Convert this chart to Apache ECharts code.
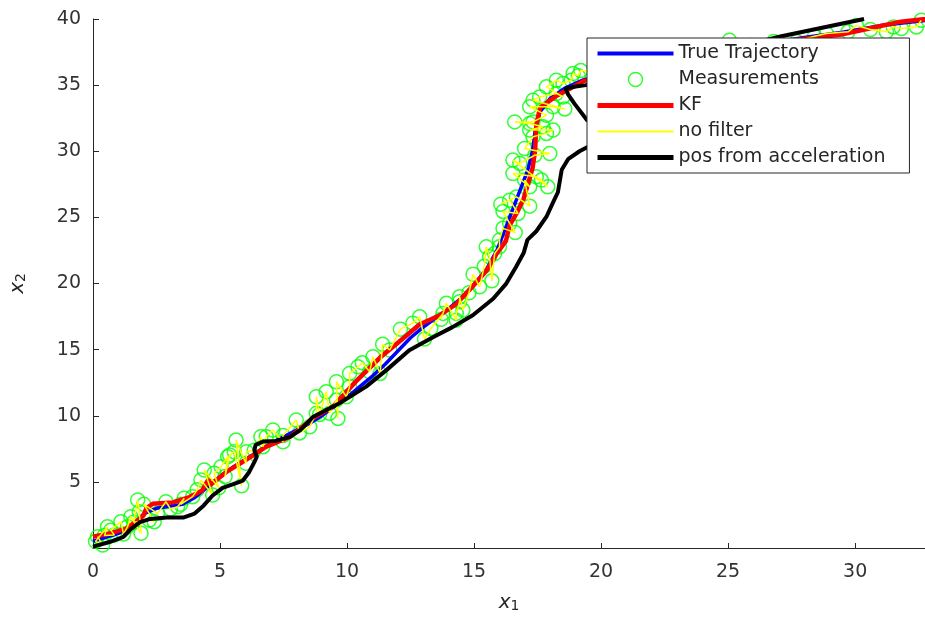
<!DOCTYPE html>
<html>
<head>
<meta charset="utf-8">
<script src="https://cdn.jsdelivr.net/npm/echarts@6/dist/echarts.min.js"></script>
<style>
html, body { margin: 0; background: #fff; }
#main { width: 925px; height: 619px; }
</style>
</head>
<body>
<div id="main"></div>
<script>
// 数据（从图上读出来的 [x1, x2]）
let trueTrajectory = [
    [0, 0.5], [0.5, 0.8], [1, 1.1], [1.5, 1.6], [2, 2.6], [2.5, 3.0], [3, 3.15], [3.5, 3.3],
    [4, 3.8], [4.5, 4.6], [5, 5.4], [5.5, 6.1], [6, 6.7], [6.5, 7.3], [7, 7.9], [7.5, 8.4],
    [8, 8.9], [8.5, 9.4], [9, 10.0], [9.5, 10.7], [10, 11.4], [10.5, 12.2], [11, 13.0],
    [11.5, 13.9], [12, 14.9], [12.5, 15.9], [13, 16.7], [13.5, 17.4], [14, 18.1], [14.5, 18.9],
    [15, 19.9], [15.5, 21.1], [15.9, 22.5], [16.2, 24.0], [16.5, 25.5], [16.8, 27.0],
    [17.1, 28.5], [17.3, 30.0], [17.4, 31.5], [17.6, 33.0], [18.0, 34.0], [18.6, 34.8],
    [19.3, 35.4], [20.5, 36.0], [22, 36.6], [24, 37.4], [26, 38.0], [28, 38.6], [29.5, 39.0],
    [31, 39.5], [32.8, 39.9]
];
let measurements = [
    [0.18, 0.86], [0.38, 0.23], [0.1, 0.5], [0.57, 1.61], [0.45, 0.95], [0.84, 0.98], [0.7, 1.35],
    [1.1, 1.99], [1.2, 1.05], [1.36, 1.61], [1.49, 2.37], [1.89, 1.11], [1.82, 2.74], [1.76, 3.63],
    [1.6, 1.95], [2.22, 2.12], [2.41, 1.99], [2.0, 3.3], [2.54, 2.62], [2.87, 3.5], [3.05, 2.95],
    [3.33, 3.12], [3.59, 3.76], [3.45, 3.3], [3.92, 3.88], [4.1, 4.4], [4.25, 5.14], [4.71, 4.0],
    [4.38, 5.9], [4.95, 4.55], [4.77, 5.65], [5.04, 6.15], [5.3, 6.9], [5.2, 5.4], [5.38, 7.03],
    [5.56, 7.28], [5.85, 4.7], [5.63, 8.16], [6.02, 6.4], [6.04, 7.28], [6.35, 7.4], [6.61, 8.41],
    [6.69, 7.66], [6.82, 8.41], [7.08, 8.92], [7.48, 8.03], [7.48, 8.5], [8.0, 9.68], [8.13, 8.7],
    [8.53, 9.17], [8.79, 10.18], [8.79, 11.44], [8.92, 10.1], [9.18, 11.81], [9.31, 10.18],
    [9.58, 11.19], [9.64, 9.8], [9.58, 12.57], [9.97, 11.44], [10.1, 12.19], [10.1, 13.2],
    [10.43, 13.7], [10.6, 14.0], [10.89, 13.33], [11.02, 14.46], [11.3, 13.2], [11.4, 15.4],
    [11.68, 14.97], [12.1, 16.55], [12.59, 17.0], [12.86, 17.48], [13.05, 15.8], [13.3, 16.6],
    [13.78, 17.74], [13.7, 17.3], [13.91, 18.5], [14.3, 17.23], [14.3, 17.74], [14.43, 18.62],
    [14.43, 19.0], [14.56, 17.99], [14.8, 19.3], [14.96, 20.7], [15.22, 19.75], [15.4, 21.3],
    [15.48, 22.77], [15.61, 22.02], [15.7, 20.2], [15.81, 22.27], [16.0, 22.77], [16.0, 23.28],
    [16.14, 24.17], [16.62, 23.85], [16.4, 24.54], [16.14, 25.45], [16.73, 25.3], [16.4, 26.3],
    [16.05, 26.0], [16.67, 26.55], [17.19, 25.85], [16.99, 27.82], [17.19, 27.31], [16.53, 28.32],
    [17.45, 28.07], [17.65, 27.82], [17.9, 27.31], [16.53, 29.33], [16.8, 29.08], [17.39, 29.7],
    [17.98, 29.83], [16.99, 30.21], [17.32, 31.09], [17.85, 31.35], [18.11, 31.6], [17.19, 31.6],
    [17.71, 31.85], [17.19, 32.1], [16.6, 32.22], [17.32, 32.22], [17.85, 32.73], [17.19, 33.36],
    [18.11, 33.36], [18.57, 33.2], [17.32, 33.86], [17.58, 34.11], [18.24, 34.37], [18.5, 34.11],
    [17.85, 34.87], [18.24, 35.37], [18.5, 35.12], [18.83, 35.37], [18.9, 35.88], [19.1, 35.7],
    [19.2, 36.1], [19.8, 36.0], [20.6, 36.3], [21.5, 36.7], [22.4, 37.0], [23.3, 37.4],
    [24.2, 37.7], [25.05, 38.4], [25.9, 38.0], [26.8, 38.3], [27.7, 38.3], [28.4, 38.7],
    [28.87, 38.9], [29.72, 39.03], [30.05, 39.5], [30.6, 39.2], [31.23, 39.03], [31.5, 39.4],
    [31.82, 39.28], [32.41, 39.4], [32.6, 39.9]
];
let kfEstimate = [
    [0, 0.85], [0.65, 1.1], [1.3, 1.45], [1.85, 2.2], [2.0, 2.5], [2.1, 3.0], [2.35, 3.35],
    [3.15, 3.45], [3.8, 3.85], [4.3, 4.35], [4.55, 5.2], [4.6, 4.75], [5.25, 5.75], [5.8, 6.4],
    [6.3, 7.0], [6.8, 7.65], [7.75, 8.4], [8.65, 9.8], [9.45, 10.7], [10.35, 12.6], [11.3, 14.4],
    [12.05, 15.6], [12.85, 16.9], [13.65, 17.6], [14.3, 18.45], [14.95, 19.8], [15.5, 21.0],
    [15.9, 22.3], [16.25, 23.2], [16.4, 24.4], [16.7, 25.4], [16.95, 26.4], [17.3, 28.7],
    [17.4, 30.0], [17.45, 32.0], [17.6, 33.3], [18.25, 34.2], [18.75, 34.7], [19.3, 35.3],
    [20.5, 35.9], [22, 36.5], [24, 37.3], [26, 38.0], [28, 38.5], [29.4, 38.8], [30.6, 39.3],
    [31.8, 39.8], [32.8, 40.0]
];
let posFromAcc = [
    [0, 0.1], [0.65, 0.45], [1.2, 0.85], [1.5, 1.45], [1.85, 1.95], [2.25, 2.2], [2.9, 2.3],
    [3.55, 2.3], [4.0, 2.6], [4.35, 3.2], [4.7, 3.95], [5.1, 4.55], [5.55, 4.85], [5.9, 5.1],
    [6.15, 5.75], [6.35, 6.5], [6.45, 6.9], [6.35, 7.4], [6.4, 7.8], [6.7, 8.05], [7.2, 8.1],
    [7.75, 8.4], [8.15, 8.9], [8.65, 9.9], [9.7, 10.95], [10.75, 12.2], [11.55, 13.45],
    [12.45, 14.95], [13.4, 15.95], [14.15, 16.7], [14.95, 17.6], [15.75, 18.85], [16.25, 19.95],
    [16.65, 21.25], [16.95, 22.3], [17.1, 23.3], [17.45, 23.95], [17.85, 25.05], [18.1, 26.1],
    [18.3, 26.9], [18.45, 28.6], [18.7, 29.4], [19.15, 30.0], [19.45, 30.3], [19.9, 30.9],
    [20.0, 31.8], [19.45, 32.35], [18.95, 33.6], [18.7, 34.3], [18.6, 34.75], [19.0, 34.9],
    [19.4, 35.0], [21, 35.8], [23, 36.7], [25, 37.7], [27.1, 38.7], [30.35, 40.0]
];
let xTicks = [0, 5, 10, 15, 20, 25, 30];
let yTicks = [5, 10, 15, 20, 25, 30, 35, 40];

let font = 'DejaVu Sans';
let axisColor = '#262626';

let myChart = echarts.init(document.getElementById('main'));

let nameRich = {
    a: { fontFamily: font, fontStyle: 'italic', fontSize: 20, color: axisColor, lineHeight: 20 },
    b: { fontFamily: font, fontSize: 14, color: axisColor, lineHeight: 14, padding: [12, 0, 0, 0], verticalAlign: 'bottom' }
};

// 图例里线条不要中间的圆点
function lineLegend(name, color, width) {
    return {
        name: name,
        itemStyle: { color: 'rgba(0,0,0,0)', borderWidth: 0 },
        lineStyle: { color: color, width: width, opacity: 1 }
    };
}

let option = {
    animation: false,
    backgroundColor: '#fff',
    grid: {
        left: 93,
        right: 0,
        top: 19,
        bottom: 71,
        containLabel: false,
        outerBoundsMode: 'none'
    },
    legend: {
        orient: 'vertical',
        left: 587,
        top: 38,
        padding: [6, 24, 6, 8],
        itemWidth: 76,
        itemHeight: 14,
        itemGap: 7,
        backgroundColor: '#fff',
        borderColor: axisColor,
        borderWidth: 1,
        borderRadius: 0,
        textStyle: { fontFamily: font, fontSize: 19, color: axisColor },
        data: [
            lineLegend('True Trajectory', '#0000ff', 4),
            {
                name: 'Measurements',
                icon: 'circle',
                itemStyle: { color: 'rgba(0,0,0,0)', borderColor: '#00ff00', borderWidth: 1.5 }
            },
            lineLegend('KF', '#ff0000', 5),
            lineLegend('no filter', '#ffff00', 2),
            lineLegend('pos from acceleration', '#000000', 5)
        ]
    },
    xAxis: {
        type: 'value',
        min: 0,
        max: 32.75,
        interval: 5,
        splitLine: { show: false },
        axisLine: { lineStyle: { color: axisColor, width: 1 } },
        axisTick: { inside: true, length: 5, lineStyle: { color: axisColor } },
        axisLabel: {
            fontFamily: font,
            fontSize: 19,
            color: '#333',
            margin: 15,
            showMaxLabel: false,
            formatter: function (v) { return xTicks.indexOf(v) >= 0 ? String(v) : ''; }
        },
        name: '{a|x}{b|1}',
        nameLocation: 'middle',
        nameGap: 44,
        nameTextStyle: { rich: nameRich }
    },
    yAxis: {
        type: 'value',
        min: 0,
        max: 40,
        interval: 5,
        splitLine: { show: false },
        axisLine: { lineStyle: { color: axisColor, width: 1 } },
        axisTick: { inside: true, length: 6, lineStyle: { color: axisColor } },
        axisLabel: {
            fontFamily: font,
            fontSize: 19,
            color: '#333',
            margin: 12,
            formatter: function (v) { return yTicks.indexOf(v) >= 0 ? String(v) : ''; }
        },
        name: '{a|x}{b|2}',
        nameLocation: 'middle',
        nameGap: 65,
        nameTextStyle: { rich: nameRich }
    },
    series: [{
        name: 'True Trajectory',
        type: 'line',
        data: trueTrajectory,
        symbol: 'none',
        lineStyle: { color: '#0000ff', width: 3.5 },
        itemStyle: { color: '#0000ff' }
    }, {
        name: 'Measurements',
        type: 'scatter',
        data: measurements,
        symbol: 'circle',
        symbolSize: 14,
        itemStyle: { color: 'rgba(0,0,0,0)', borderColor: '#00ff00', borderWidth: 1.5 }
    }, {
        name: 'KF',
        type: 'line',
        data: kfEstimate,
        symbol: 'none',
        lineStyle: { color: '#ff0000', width: 4.5 },
        itemStyle: { color: '#ff0000' }
    }, {
        name: 'no filter',
        type: 'line',
        data: measurements,
        symbol: 'none',
        lineStyle: { color: '#ffff00', width: 1.5 },
        itemStyle: { color: '#ffff00' }
    }, {
        name: 'pos from acceleration',
        type: 'line',
        data: posFromAcc,
        symbol: 'none',
        lineStyle: { color: '#000000', width: 4 },
        itemStyle: { color: '#000000' }
    }]
};

myChart.setOption(option);
</script>
</body>
</html>
